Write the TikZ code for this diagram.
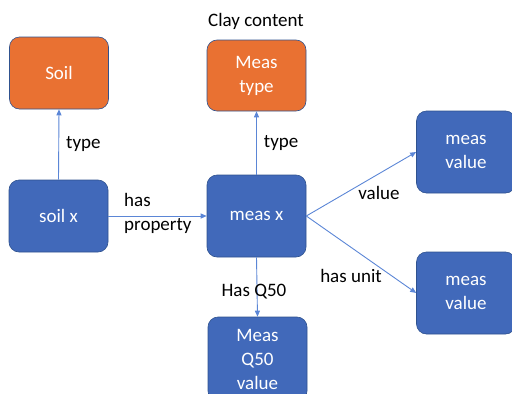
\documentclass[tikz,border=0pt]{standalone}
\usepackage{fontspec}
\setmainfont{Carlito}
\usetikzlibrary{arrows.meta}
\definecolor{boxblue}{HTML}{4169BA}
\definecolor{boxorange}{HTML}{E97132}
\definecolor{edgeblue}{HTML}{2F528F}
\definecolor{arrowblue}{HTML}{5B86D6}
\tikzset{
  x=1pt, y=-1pt,
  box/.style={draw=edgeblue, line width=0.6pt, rounded corners=10pt, minimum width=99pt, text=white, align=center, font=\fontsize{19}{24}\selectfont, inner sep=0pt},
  bluebox/.style={box, fill=boxblue},
  orangebox/.style={box, fill=boxorange},
  conn/.style={draw=arrowblue, line width=0.9pt, -{Triangle[length=6pt,width=5pt]}},
  lbl/.style={font=\fontsize{19}{24}\selectfont, text=black, inner sep=0pt}
}
\begin{document}
\begin{tikzpicture}
\useasboundingbox (0,0) rectangle (512,394);
\node[orangebox, minimum height=72pt] (soil) at (59,73) {Soil};
\node[orangebox, minimum height=71pt] (meastype) at (256.5,75.5) {Meas\\type};
\node[lbl] (clay) at (256,21) {Clay content};
\node[bluebox, minimum height=72pt] (soilx) at (58.5,216) {soil x};
\node[bluebox, minimum height=82pt] (measx) at (256.5,216) {meas x};
\node[bluebox, minimum height=82pt] (mv1) at (466,152) {meas\\value};
\node[bluebox, minimum height=82pt] (mv2) at (466,293) {meas\\value};
\node[bluebox, minimum height=84pt] (q50) at (257.5,359) {Meas\\Q50\\value};
\draw[conn] (soilx.north) -- (soil.south) node[lbl, midway, right=7pt] (t1) {type};
\draw[conn] (measx.north) -- (meastype.south) node[lbl, midway, right=7pt] (t2) {type};
\draw[conn] (soilx.east) -- (measx.west);
\node[lbl, align=left, anchor=west] (hp) at (124,213) {has\\property};
\draw[conn] (measx.east) -- (mv1.west);
\node[lbl] (val) at (379,193) {value};
\draw[conn] (measx.east) -- (mv2.west);
\node[lbl] (unit) at (351,276) {has unit};
\draw[conn] (measx.south) -- (q50.north);
\node[lbl] (hq) at (254,292) {Has Q50};
\end{tikzpicture}
\end{document}
